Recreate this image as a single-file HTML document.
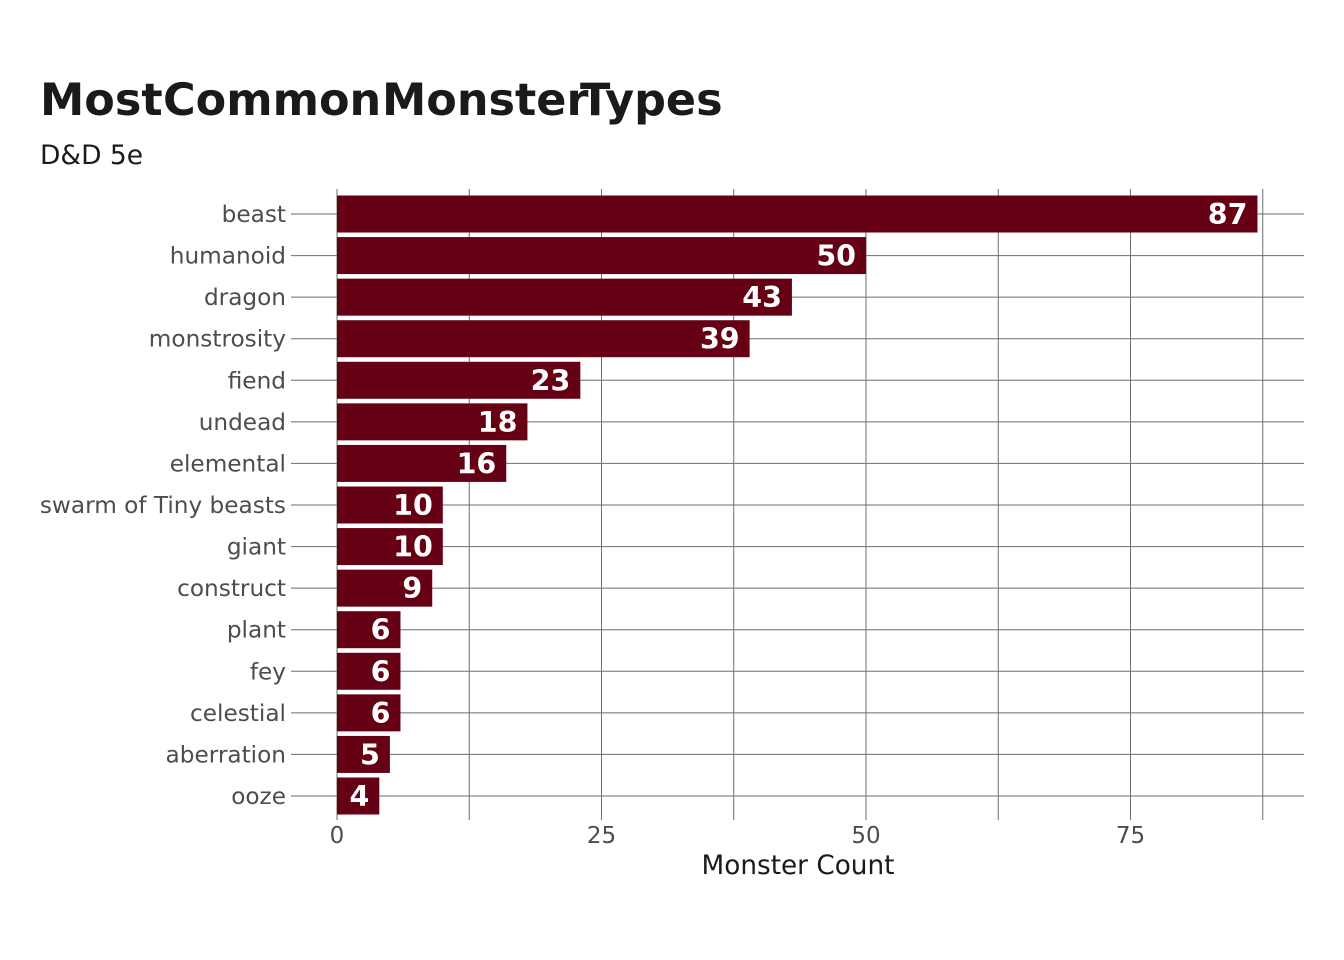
<!DOCTYPE html>
<html><head><meta charset="utf-8"><style>
body{margin:0;background:#fff;}
svg{display:block;font-family:"DejaVu Sans","Liberation Sans",sans-serif;}
</style></head><body>
<svg id="chart" width="1344" height="960">
<g font-weight="bold" font-size="44.5" fill="#1a1a1a">
<text x="40" y="115">Most</text><text x="163" y="115">Common</text><text x="382" y="115">Monster</text><text x="580" y="115">Types</text>
</g>
<text x="40" y="164" font-size="26.5" fill="#1a1a1a">D&amp;D 5e</text>
<text x="798" y="874" font-size="26.3" fill="#1a1a1a" text-anchor="middle">Monster Count</text>
</svg>
<script>
const categories=["beast","humanoid","dragon","monstrosity","fiend","undead","elemental","swarm of Tiny beasts","giant","construct","plant","fey","celestial","aberration","ooze"];
const values=[87,50,43,39,23,18,16,10,10,9,6,6,6,5,4];
const xTicks=[0,25,50,75];
const xMinor=[12.5,37.5,62.5,87.5];
const svg=document.getElementById('chart');
const NS='http://www.w3.org/2000/svg';
const x=v=>337+v*(866-337)/50;
const y=i=>214+i*(796-214)/14;
function mk(t,a,p){const e=document.createElementNS(NS,t);for(const k in a)e.setAttribute(k,a[k]);(p||svg).appendChild(e);return e;}
const grid=mk('g',{});


[...xTicks,...xMinor].forEach(v=>{const l=mk('line',{x1:x(v),x2:x(v),y1:189,y2:820,stroke:'#6e6e6e','stroke-width':1},grid);

});
categories.forEach((c,i)=>{const l=mk('line',{x1:291,x2:1304,y1:y(i),y2:y(i),stroke:'#6e6e6e','stroke-width':1},grid);

});
categories.forEach((c,i)=>{
const r=mk('rect',{x:x(0),y:y(i)-18.5,width:x(values[i])-x(0),height:37,fill:'#650015'});


const t=mk('text',{x:x(values[i])-10,y:y(i)+10,'font-size':28.5,'font-weight':'bold',fill:'#fff','text-anchor':'end'});t.textContent=values[i];


const lb=mk('text',{x:286,y:y(i)+8,'font-size':23.2,fill:'#4d4d4d','text-anchor':'end'});lb.textContent=c;


});
xTicks.forEach(v=>{const t=mk('text',{x:x(v),y:843,'font-size':23,fill:'#4d4d4d','text-anchor':'middle'});t.textContent=v;

});
</script>
</body></html>
